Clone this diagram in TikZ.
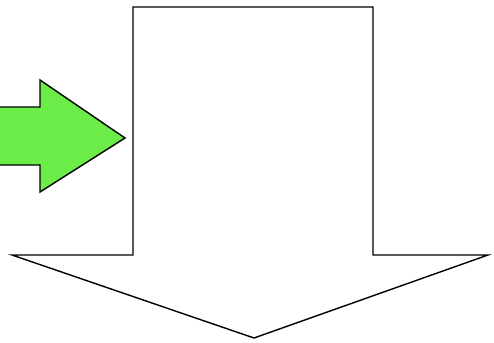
\documentclass[tikz,border=0pt]{standalone}
\usetikzlibrary{calc}
\definecolor{arrowgreen}{RGB}{108,236,72}

\begin{document}
\begin{tikzpicture}[x=0.02cm, y=-0.02cm, line cap=round, line join=miter, thick]

% Khung hình
\useasboundingbox (0,0) rectangle (494,342);

% Mũi tên lớn hướng xuống
\coordinate (S1) at (133,7);
\coordinate (S2) at (373,7);
\coordinate (S3) at (373,255);
\coordinate (H1) at (488,255);
\coordinate (T) at (254,338);   % Đỉnh mũi tên
\coordinate (H2) at (12,255);
\coordinate (S4) at (133,255);
\draw[fill=white] (S1) -- (S2) -- (S3) -- (H1) -- (T) -- (H2) -- (S4) -- cycle;

% Mũi tên xanh hướng sang phải
\coordinate (g1) at (-5,107);
\coordinate (g2) at (40,107);
\coordinate (g3) at (40,80);
\coordinate (gT) at (125,138);  % Đỉnh mũi tên xanh
\coordinate (g4) at (40,192);
\coordinate (g5) at (40,165);
\coordinate (g6) at (-5,165);
\draw[fill=arrowgreen] (g1) -- (g2) -- (g3) -- (gT) -- (g4) -- (g5) -- (g6);

\end{tikzpicture}
\end{document}
